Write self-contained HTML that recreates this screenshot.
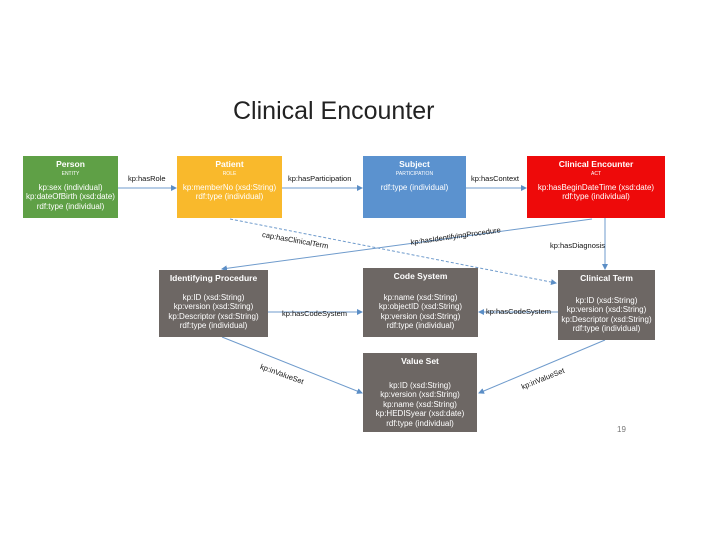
<!DOCTYPE html>
<html><head><style>
body{margin:0;width:720px;height:540px;background:#fff;position:relative;font-family:"Liberation Sans",sans-serif;overflow:hidden}
.b{position:absolute;color:#fff;text-align:center;font-size:8px;line-height:9.5px;box-sizing:border-box;padding-top:4px}
.b .t{font-weight:bold;font-size:8.5px}
.b .s{font-size:5px;line-height:8px}
.l{position:absolute;font-size:7.5px;color:#111;white-space:nowrap}
</style></head><body>
<div style="position:absolute;left:233px;top:97px;font-size:25px;color:#222">Clinical Encounter</div>
<svg width="720" height="540" style="position:absolute;left:0;top:0">
<defs><marker id="a" markerWidth="6" markerHeight="6" refX="5" refY="3" orient="auto"><path d="M0,0L6,3L0,6z" fill="#5b8ec6"/></marker></defs>
<g stroke="#6f9bcc" stroke-width="1" fill="none" marker-end="url(#a)">
<line x1="118" y1="188" x2="176" y2="188"/>
<line x1="282" y1="188" x2="362" y2="188"/>
<line x1="466" y1="188" x2="526" y2="188"/>
<line x1="605" y1="218" x2="605" y2="269"/>
<line x1="230" y1="219" x2="556" y2="283" stroke-dasharray="3,2"/>
<line x1="592" y1="219" x2="222" y2="269"/>
<line x1="268" y1="312" x2="362" y2="312"/>
<line x1="558" y1="312" x2="479" y2="312"/>
<line x1="222" y1="337" x2="362" y2="393"/>
<line x1="605" y1="340" x2="479" y2="393"/>
</g></svg>
<div class="b" style="left:23px;top:156px;width:95px;height:62px;background:#5fa046"><div class="t">Person</div><div class="s">ENTITY</div><div style="margin-top:5px">kp:sex (individual)<br>kp:dateOfBirth (xsd:date)<br>rdf:type (individual)</div></div>
<div class="b" style="left:177px;top:156px;width:105px;height:62px;background:#f9b92c"><div class="t">Patient</div><div class="s">ROLE</div><div style="margin-top:5px">kp:memberNo (xsd:String)<br>rdf:type (individual)</div></div>
<div class="b" style="left:363px;top:156px;width:103px;height:62px;background:#5b92cf"><div class="t">Subject</div><div class="s">PARTICIPATION</div><div style="margin-top:5px">rdf:type (individual)</div></div>
<div class="b" style="left:527px;top:156px;width:138px;height:62px;background:#ee0a0a"><div class="t">Clinical Encounter</div><div class="s">ACT</div><div style="margin-top:5px">kp:hasBeginDateTime (xsd:date)<br>rdf:type (individual)</div></div>
<div class="b" style="left:159px;top:270px;width:109px;height:67px;background:#6d6764"><div class="t">Identifying Procedure</div><div style="margin-top:9px">kp:ID (xsd:String)<br>kp:version (xsd:String)<br>kp:Descriptor (xsd:String)<br>rdf:type (individual)</div></div>
<div class="b" style="left:363px;top:268px;width:115px;height:69px;background:#6d6764"><div class="t">Code System</div><div style="margin-top:11px">kp:name (xsd:String)<br>kp:objectID (xsd:String)<br>kp:version (xsd:String)<br>rdf:type (individual)</div></div>
<div class="b" style="left:558px;top:270px;width:97px;height:70px;background:#6d6764"><div class="t">Clinical Term</div><div style="margin-top:12px">kp:ID (xsd:String)<br>kp:version (xsd:String)<br>kp:Descriptor (xsd:String)<br>rdf:type (individual)</div></div>
<div class="b" style="left:363px;top:353px;width:114px;height:79px;background:#6d6764"><div class="t">Value Set</div><div style="margin-top:14px">kp:ID (xsd:String)<br>kp:version (xsd:String)<br>kp:name (xsd:String)<br>kp:HEDISyear (xsd:date)<br>rdf:type (individual)</div></div>
<div class="l" style="left:128px;top:174px">kp:hasRole</div>
<div class="l" style="left:288px;top:174px">kp:hasParticipation</div>
<div class="l" style="left:471px;top:174px">kp:hasContext</div>
<div class="l" style="left:550px;top:241px">kp:hasDiagnosis</div>
<div class="l" style="left:263px;top:230px;transform:rotate(10deg);transform-origin:left top">cap:hasClinicalTerm</div>
<div class="l" style="left:410px;top:238px;transform:rotate(-8deg);transform-origin:left top">kp:hasIdentifyingProcedure</div>
<div class="l" style="left:282px;top:309px">kp:hasCodeSystem</div>
<div class="l" style="left:486px;top:307px">kp:hasCodeSystem</div>
<div class="l" style="left:262px;top:362px;transform:rotate(20deg);transform-origin:left top">kp:inValueSet</div>
<div class="l" style="left:520px;top:383px;transform:rotate(-22deg);transform-origin:left top">kp:inValueSet</div>
<div class="l" style="left:617px;top:425px;color:#777;font-size:8px">19</div>
</body></html>
